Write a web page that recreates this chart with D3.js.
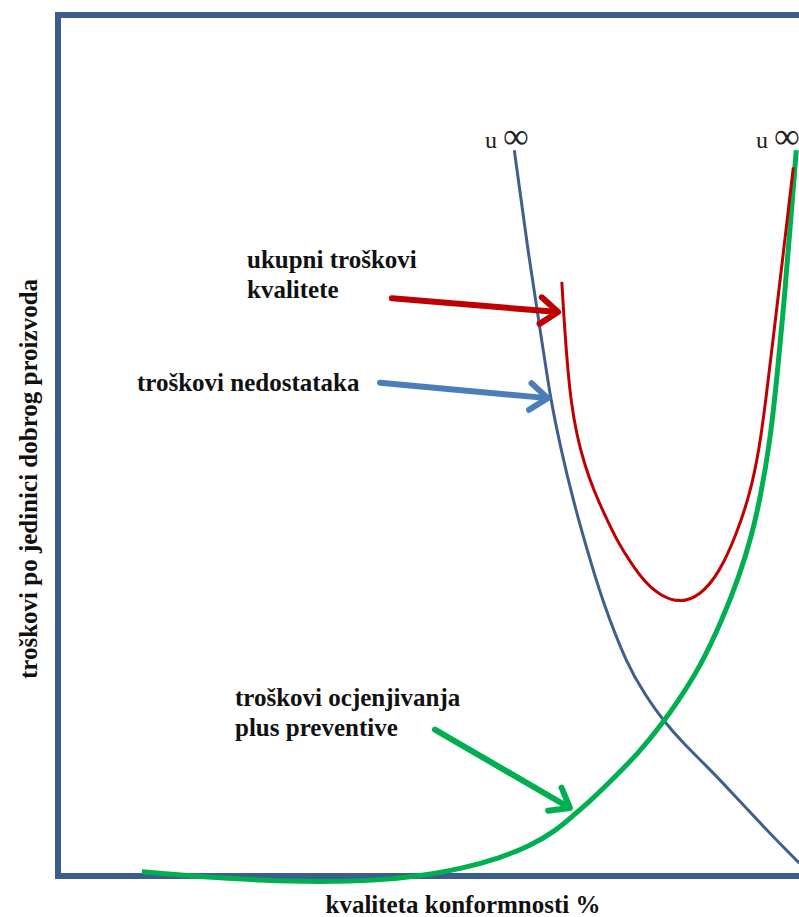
<!DOCTYPE html>
<html>
<head>
<meta charset="utf-8">
<script src="https://cdn.jsdelivr.net/npm/d3@7"></script>
<style>
  body { margin: 0; background: #fff; }
  text { font-family: "Liberation Serif", "Times New Roman", serif; }
</style>
</head>
<body>
<script>
// size of page
var w = 799;
var h = 917;

// curves, x = kvaliteta konformnosti (0-100), y = troskovi (0-100)
var nedostatakaX = [61.5, 63.3, 65.4, 66.4, 67.8, 69.4, 71.3, 73.3, 76.7, 79.1, 81.5, 84.5, 87.5, 90.6, 93.7, 96.8, 99.9];
var nedostatakaY = [84.3, 72.7, 61.1, 55.3, 49.5, 43.7, 37.9, 32.1, 24.5, 21.1, 18.1, 15.2, 12.7, 9.9, 7.0, 4.2, 1.5];

var ocjenjivanjaX = [11.3, 19.1, 27.2, 35.3, 43.4, 48.8, 54.2, 59.6, 63.6, 67.0, 69.4, 71.7, 74.0, 78.4, 81.5, 83.4, 86.5, 89.5, 91.9, 93.5, 94.6, 96.0, 97.0, 98.0, 98.8, 99.5];
var ocjenjivanjaY = [0.5, -0.1, -0.5, -0.7, -0.5, 0.0, 0.8, 2.1, 3.5, 5.2, 7.0, 8.7, 10.6, 14.4, 17.8, 20.1, 24.2, 29.7, 35.0, 39.6, 43.7, 50.6, 58.8, 68.1, 76.8, 84.3];

var ukupniX = [67.9, 68.2, 68.6, 69.1, 69.9, 71.0, 72.2, 73.7, 75.3, 77.1, 79.1, 81.1, 83.8, 86.5, 89.2, 91.5, 93.3, 94.5, 95.4, 96.2, 97.0, 97.8, 98.5, 99.1];
var ukupniY = [69.0, 64.6, 59.9, 55.3, 51.2, 47.7, 44.8, 41.9, 39.0, 36.5, 34.1, 32.6, 31.7, 32.5, 35.3, 39.8, 44.5, 49.5, 55.3, 61.1, 66.9, 72.7, 77.9, 82.3];

// annotation arrows: [x1, y1, x2, y2]
var arrowUkupni = [45.0, 67.1, 67.4, 65.5];
var arrowNedostataka = [43.4, 57.3, 66.0, 55.5];
var arrowOcjenjivanja = [50.8, 17.0, 69.0, 7.9];

// "u ∞" label anchors
var infX = [60.5, 97.0];
var infY = [84.6, 84.6];

var svg = d3.select("body")
            .append("svg")
            .attr("width", w)
            .attr("height", h);

var x = d3.scaleLinear().domain([0, 100]).range([58, 800]);
var y = d3.scaleLinear().domain([0, 100]).range([876, 15]);

// frame
svg.append("rect")
    .attr("x", x(0))
    .attr("y", y(100))
    .attr("width", 803 - x(0))
    .attr("height", y(0) - y(100))
    .attr("fill", "none")
    .attr("stroke", "#3b5e8c")
    .attr("stroke-width", 6);

var line = d3.line()
    .x(function(d) { return x(d[0]); })
    .y(function(d) { return y(d[1]); })
    .curve(d3.curveBasis);

function drawCurve(xs, ys, color, width) {
    svg.append("path")
        .datum(d3.zip(xs, ys))
        .attr("d", line)
        .attr("fill", "none")
        .attr("stroke", color)
        .attr("stroke-width", width)
        .attr("stroke-linecap", "butt");
}

drawCurve(nedostatakaX, nedostatakaY, "#3f5f8d", 3);
drawCurve(ocjenjivanjaX, ocjenjivanjaY, "#00b050", 5);
drawCurve(ukupniX, ukupniY, "#c00000", 3);

function drawArrow(a, color) {
    var x1 = x(a[0]), y1 = y(a[1]), x2 = x(a[2]), y2 = y(a[3]);
    var ang = Math.atan2(y2 - y1, x2 - x1);
    var len = 22, spread = 0.65;
    var g = svg.append("g")
        .attr("fill", "none")
        .attr("stroke", color)
        .attr("stroke-width", 6)
        .attr("stroke-linecap", "round")
        .attr("stroke-linejoin", "round");
    g.append("line")
        .attr("x1", x1).attr("y1", y1)
        .attr("x2", x2 - 3 * Math.cos(ang)).attr("y2", y2 - 3 * Math.sin(ang));
    g.append("path")
        .attr("d", "M" + (x2 - len * Math.cos(ang - spread)) + "," + (y2 - len * Math.sin(ang - spread)) +
                   "L" + x2 + "," + y2 +
                   "L" + (x2 - len * Math.cos(ang + spread)) + "," + (y2 - len * Math.sin(ang + spread)));
}

drawArrow(arrowUkupni, "#c00000");
drawArrow(arrowNedostataka, "#4a7ebb");
drawArrow(arrowOcjenjivanja, "#00b050");

// u ∞ labels
infX.forEach(function(v, i) {
    var t = svg.append("text")
        .attr("x", x(v))
        .attr("y", y(infY[i]))
        .attr("text-anchor", "middle")
        .attr("fill", "#222");
    t.append("tspan").attr("font-size", 24).text("u ");
    t.append("tspan").attr("font-size", 36).text("\u221E");
});

// annotation texts
function label(lines, px, py) {
    var t = svg.append("text")
        .attr("font-size", 25)
        .attr("font-weight", "bold")
        .attr("fill", "#111");
    lines.forEach(function(s, i) {
        t.append("tspan").attr("x", px).attr("y", py + i * 30).text(s);
    });
}

label(["ukupni troškovi", "kvalitete"], 247, 268);
label(["troškovi nedostataka"], 137, 391);
label(["troškovi ocjenjivanja", "plus preventive"], 235, 706);

// axis titles
svg.append("text")
    .attr("x", 463)
    .attr("y", 913)
    .attr("text-anchor", "middle")
    .attr("font-size", 25)
    .attr("font-weight", "bold")
    .attr("fill", "#111")
    .text("kvaliteta konformnosti %");

svg.append("text")
    .attr("transform", "translate(37,479) rotate(-90)")
    .attr("text-anchor", "middle")
    .attr("font-size", 25)
    .attr("font-weight", "bold")
    .attr("fill", "#111")
    .text("troškovi po jedinici dobrog proizvoda");
</script>
</body>
</html>
